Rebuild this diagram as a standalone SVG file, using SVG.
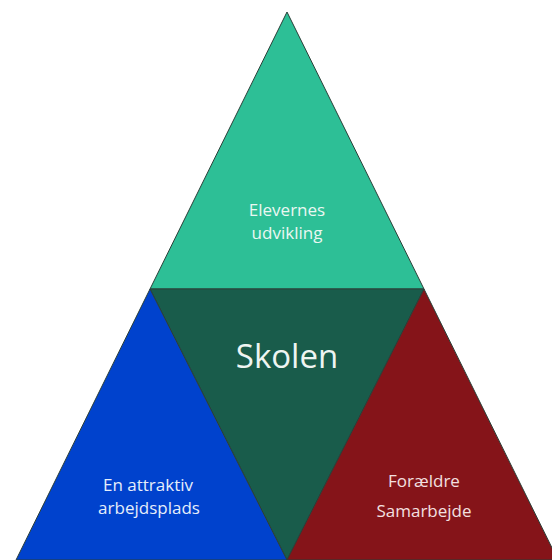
<svg xmlns="http://www.w3.org/2000/svg" width="552" height="560" viewBox="0 0 552 560">
<style>
.tri{stroke:#2b3f38;stroke-width:1;stroke-linejoin:miter}
.lbl{font-family:"Open Sans","Liberation Sans",sans-serif;font-size:17px;text-anchor:middle}
.big{font-family:"Open Sans","Liberation Sans",sans-serif;font-size:33px;text-anchor:middle}
</style>
<rect width="552" height="560" fill="#ffffff"/>
<g id="top">
<polygon class="tri" points="287,12 424,289 150,289" fill="#2dbf96"/>
<text class="lbl" x="287" y="216" fill="#eaf7f2">Elevernes</text>
<text class="lbl" x="287" y="239" fill="#eaf7f2">udvikling</text>
</g>
<g id="center">
<polygon class="tri" points="150,289 424,289 287,560" fill="#195c4b"/>
<text class="big" x="287" y="368" fill="#eef5f2">Skolen</text>
</g>
<g id="left">
<polygon class="tri" points="150,289 287,560 16,560" fill="#0042cd"/>
<text class="lbl" x="148" y="491" fill="#e6eefa">En attraktiv</text>
<text class="lbl" x="149" y="514" fill="#e6eefa">arbejdsplads</text>
</g>
<g id="right">
<polygon class="tri" points="424,289 558,560 287,560" fill="#851419"/>
<text class="lbl" x="424" y="487" fill="#f3e0e0">Forældre</text>
<text class="lbl" x="424" y="517" fill="#f3e0e0">Samarbejde</text>
</g>
<g id="connectors"></g>
</svg>
